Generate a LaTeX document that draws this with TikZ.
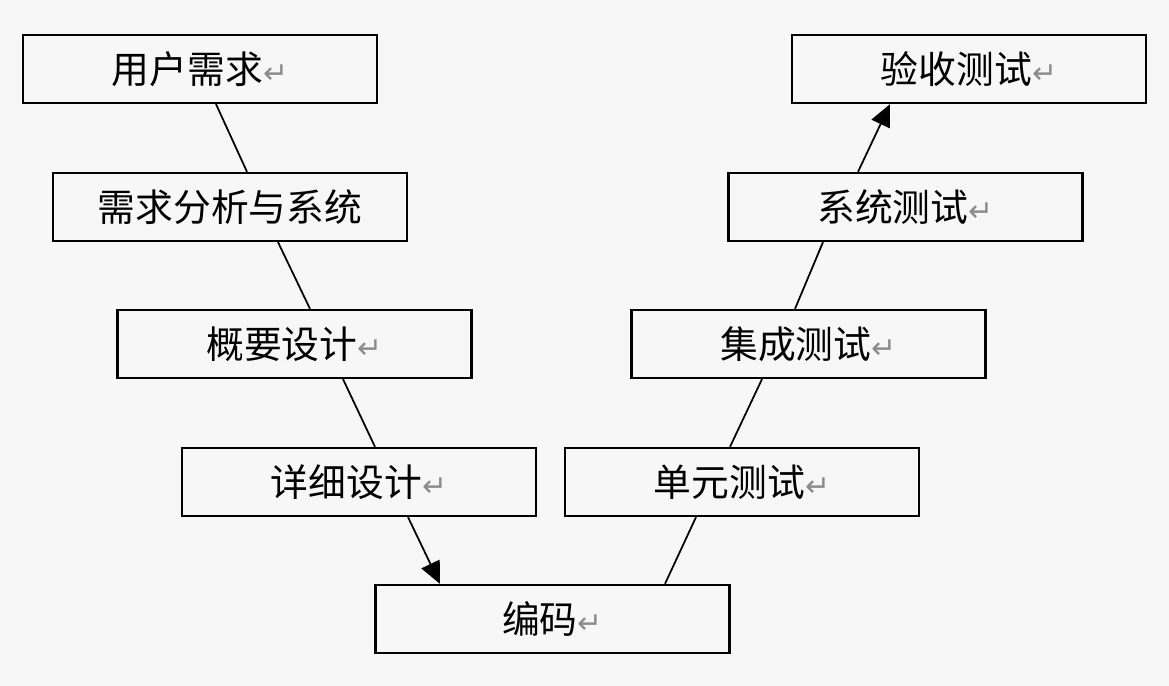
\documentclass[tikz,border=0pt]{standalone}
\usepackage{fontspec}
\usepackage{xcolor}
\usepackage{tikz}
\usetikzlibrary{arrows.meta}
\newfontfamily\cjk{Noto Sans CJK SC}
\newfontfamily\markfont{DejaVu Sans}
\definecolor{pagegray}{HTML}{F7F7F7}
\definecolor{markgray}{HTML}{8C8C8C}
\newcommand{\retmark}{{\markfont\color{markgray}\fontsize{17}{17}\selectfont ↵}}

\begin{document}
\begin{tikzpicture}[
    vbox/.style={draw=black, fill=pagegray, line width=1.3pt,
                 minimum width=7.08cm, minimum height=1.36cm, inner sep=0pt,
                 font=\cjk\fontsize{21.5}{25}\selectfont},
    vline/.style={line width=1pt},
    varrow/.style={line width=1pt, -{Triangle[length=0.44cm,width=0.4cm]}}]
    \fill[pagegray] (0,0) rectangle (23.38,13.72);
    % left side, going down
    \node[vbox] (req)  at (4.00,12.34) {用户需求\retmark};
    \node[vbox] (ana)  at (4.60,9.58)  {需求分析与系统};
    \node[vbox] (hld)  at (5.89,6.84)  {概要设计\retmark};
    \node[vbox] (dd)   at (7.18,4.08)  {详细设计\retmark};
    \node[vbox] (code) at (11.05,1.34) {编码\retmark};
    % right side, going up
    \node[vbox] (ut)   at (14.84,4.08) {单元测试\retmark};
    \node[vbox] (it)   at (16.17,6.84) {集成测试\retmark};
    \node[vbox] (st)   at (18.11,9.58) {系统测试\retmark};
    \node[vbox] (acc)  at (19.38,12.34) {验收测试\retmark};

    \draw[vline]  ([xshift=0.32cm]req.south) -- ([xshift=0.34cm]ana.north);
    \draw[vline]  ([xshift=0.96cm]ana.south) -- ([xshift=0.31cm]hld.north);
    \draw[vline]  ([xshift=0.97cm]hld.south) -- ([xshift=0.32cm]dd.north);
    \draw[varrow] ([xshift=0.98cm]dd.south) -- ([xshift=-2.25cm]code.north);
    \draw[vline]  ([xshift=2.25cm]code.north) -- ([xshift=-0.92cm]ut.south);
    \draw[vline]  ([xshift=-0.24cm]ut.north) -- ([xshift=-0.93cm]it.south);
    \draw[vline]  ([xshift=-0.27cm]it.north) -- ([xshift=-1.65cm]st.south);
    \draw[varrow] ([xshift=-0.95cm]st.north) -- ([xshift=-1.58cm]acc.south);
\end{tikzpicture}
\end{document}
